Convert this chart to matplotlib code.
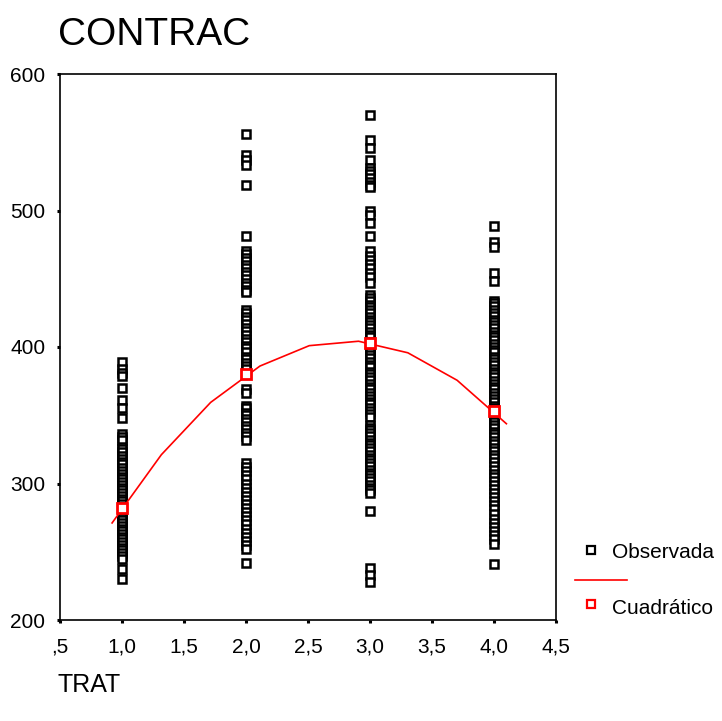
import numpy as np
import matplotlib
matplotlib.use('Agg')
import matplotlib.pyplot as plt
from matplotlib.lines import Line2D

plt.rcParams['font.family'] = ['Liberation Sans', 'DejaVu Sans']

# Observed CONTRAC values per treatment level
trat_levels = [1, 2, 3, 4]
obs_1 = [389, 384, 381, 379, 370, 361, 355, 348, 336, 334, 332, 327, 325, 323,
         320, 318, 316, 314, 311, 309, 307, 305, 303, 301, 299, 297, 295, 293,
         291, 289, 287, 285, 283, 281, 279, 277, 275, 273, 271, 269, 267, 265,
         263, 261, 259, 257, 255, 253, 251, 249, 247, 245, 237, 230]
obs_2 = [556, 541, 537, 533, 519, 481, 470, 468, 465, 463, 460, 458, 455, 453,
         450, 447, 445, 442, 440, 427, 425, 422, 420, 417, 414, 412, 409, 406,
         404, 401, 399, 396, 393, 391, 388, 386, 384, 380, 369, 366, 357, 355,
         352, 350, 347, 345, 342, 340, 337, 335, 332, 315, 312, 309, 306, 303,
         300, 297, 294, 291, 288, 285, 282, 279, 276, 273, 270, 267, 264, 261,
         258, 255, 252, 242]
obs_3 = [570, 552, 546, 537, 531, 529, 527, 524, 521, 519, 517, 500, 497, 491,
         481, 470, 467, 464, 461, 458, 454, 451, 447, 438, 436, 434, 431, 429,
         427, 425, 422, 420, 418, 416, 414, 411, 409, 407, 404, 402, 400, 398,
         396, 394, 392, 389, 387, 385, 382, 380, 378, 376, 373, 371, 369, 366,
         364, 362, 360, 358, 355, 353, 351, 349, 343, 341, 339, 337, 335, 332,
         330, 328, 326, 324, 321, 319, 317, 315, 313, 310, 308, 306, 304, 302,
         299, 297, 295, 293, 280, 238, 233, 228]
obs_4 = [489, 477, 473, 454, 448, 434, 432, 430, 427, 425, 423, 420, 418, 416,
         414, 411, 409, 407, 405, 402, 400, 398, 396, 393, 391, 389, 387, 384,
         382, 380, 378, 375, 373, 371, 369, 366, 364, 362, 360, 357, 355, 352,
         350, 348, 345, 343, 341, 338, 336, 334, 331, 329, 326, 324, 321, 319,
         316, 313, 310, 307, 305, 302, 299, 296, 293, 290, 287, 284, 281, 278,
         274, 271, 268, 265, 262, 259, 256, 241]
observed = [obs_1, obs_2, obs_3, obs_4]

# Quadratic model predictions at each level
fitted = [282, 380, 403, 353]

xticks = [0.5, 1.0, 1.5, 2.0, 2.5, 3.0, 3.5, 4.0, 4.5]
xticklabels = [',5', '1,0', '1,5', '2,0', '2,5', '3,0', '3,5', '4,0', '4,5']
yticks = [200, 300, 400, 500, 600]

W, H = 722, 721
fig = plt.figure(figsize=(W / 100, H / 100), dpi=100)
ax = fig.add_axes([60 / W, 1 - 620 / H, (556 - 60) / W, (620 - 74) / H])

# observed points
for lvl, vals in zip(trat_levels, observed):
    ax.plot([lvl] * len(vals), vals, linestyle='none', marker='s', ms=6.3,
            mfc='white', mec='black', mew=1.8, zorder=3)

# quadratic curve
coef = np.polyfit(trat_levels, fitted, 2)
xs = np.linspace(0.92, 4.1, 9)
ax.plot(xs, np.polyval(coef, xs), color='red', lw=1.2, zorder=4)
ax.plot(trat_levels, fitted, linestyle='none', marker='s', ms=7.5,
        mfc='white', mec='red', mew=2, zorder=5)

ax.set_xlim(0.5, 4.5)
ax.set_ylim(200, 600)
ax.set_xticks(xticks)
ax.set_xticklabels(xticklabels)
ax.set_yticks(yticks)
for s in ax.spines.values():
    s.set_linewidth(1.2)
ax.tick_params(direction='out', length=2.5, width=2.2, labelsize=15, pad=8)
ax.tick_params(axis='x', pad=10)

# title and axis label
fig.text(58 / W, 1 - 45 / H, 'CONTRAC', fontsize=28, va='baseline', ha='left')
fig.text(58 / W, 1 - 692 / H, 'TRAT', fontsize=18, va='baseline', ha='left')

# legend drawn by hand (SPSS style)
def px(x, y):
    return x / W, 1 - y / H

fig.add_artist(Line2D([px(591, 0)[0]], [px(0, 550)[1]], marker='s', ms=6,
                      mfc='white', mec='black', mew=1.6, linestyle='none'))
fig.text(*px(612, 553), 'Observada', fontsize=15, va='center', ha='left')
fig.add_artist(Line2D([px(575, 0)[0], px(627, 0)[0]], [px(0, 580)[1]] * 2,
                      color='red', lw=1.2))
fig.add_artist(Line2D([px(591, 0)[0]], [px(0, 604)[1]], marker='s', ms=6,
                      mfc='white', mec='red', mew=1.6, linestyle='none'))
fig.text(*px(612, 608), 'Cuadrático', fontsize=15, va='center', ha='left')

fig.savefig('out.png', dpi=100)
